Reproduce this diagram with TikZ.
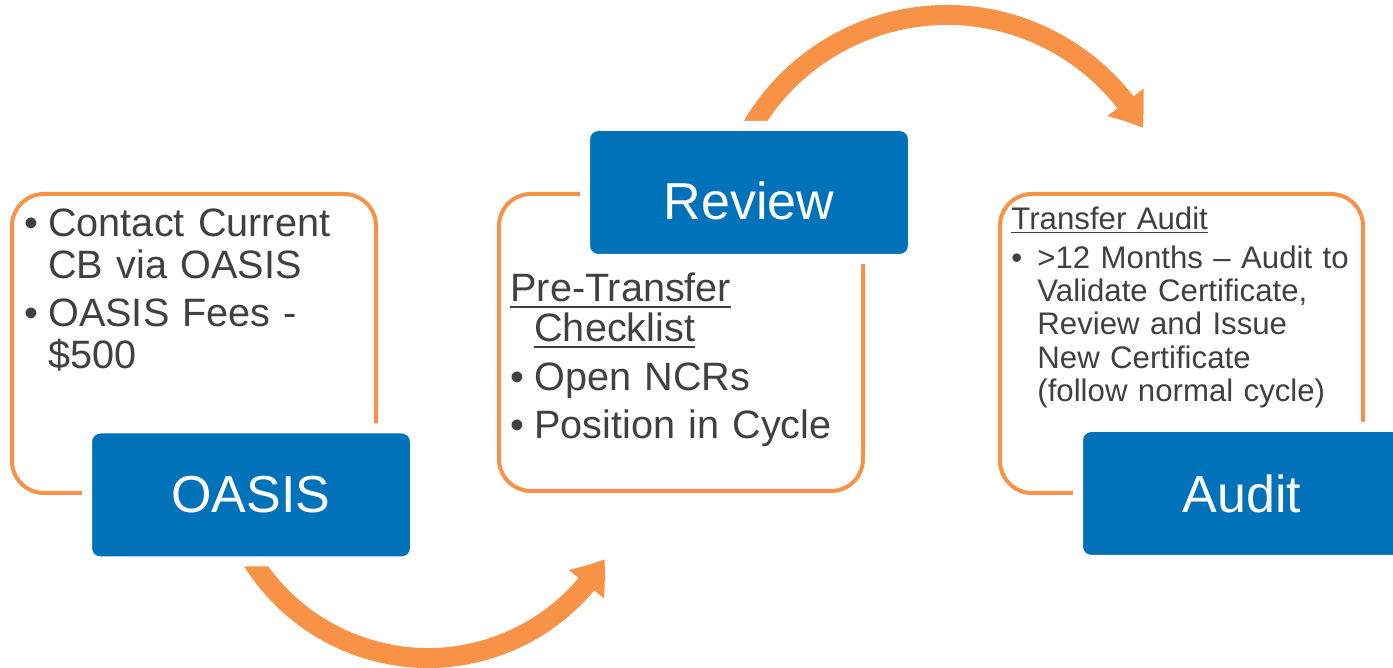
\documentclass[tikz,border=0pt]{standalone}
\usepackage{fontspec}
\setmainfont{Liberation Sans}
\usetikzlibrary{calc}
\usetikzlibrary{arrows.meta}
\usetikzlibrary{bending}
\definecolor{stepblue}{RGB}{0,114,185}
\definecolor{steporange}{RGB}{248,146,70}
\definecolor{notegray}{RGB}{64,64,64}
\tikzstyle{frame}=[draw=steporange,line width=2pt,rounded corners=16pt]
\tikzstyle{titlebox}=[fill=stepblue,draw=white,line width=5pt,rounded corners=6.5pt,minimum width=164pt,minimum height=66.5pt,text=white,font=\fontsize{26pt}{30pt}\selectfont]
\tikzstyle{cyclearrow}=[draw=steporange,line width=10pt,-{Triangle[length=15.5pt,width=21.5pt,bend]}]
\tikzstyle{notes}=[anchor=base west,inner sep=0pt,text width=178pt,align=left,text=notegray]
\def\cyclestep(#1)(#2)(#3)#4#5% Syntax: (frame lower left)(frame upper right)(title centre){name}{title}
    { \draw[frame] (#1) rectangle (#2);
      \node[titlebox] (#4) at (#3) {#5}; }
\newcommand{\underword}[3][2.8pt]{\leavevmode\setbox0=\hbox{#3}\rlap{\rule[-#1]{\wd0}{#2}}\box0}
\newcommand{\bulletpar}[1]{\hangindent=#1\hangafter=1\makebox[#1][l]{\textbullet}}

\begin{document}
\begin{tikzpicture}[x=0.5pt,y=0.5pt]
	\useasboundingbox (0,0) rectangle (1393,668);
	\clip (0,0) rectangle (1393,668);
	% arrows between the steps, drawn first so the title boxes hide their tails
	\coordinate (oasisout) at ($(428,217)+(205:103.5pt)$);
	\coordinate (reviewout) at ($(947,427)+(155:113pt)$);
	\draw[cyclearrow] (oasisout) arc[start angle=205,end angle=328.5,radius=103.5pt];
	\draw[cyclearrow] (reviewout) arc[start angle=155,end angle=30,radius=113pt];
	% the three steps
	\cyclestep(12,175)(376,474)(251,173){oasis}{OASIS}
	\cyclestep(499,177)(863,474)(749,475.5){review}{\raisebox{-4pt}[\height][\depth]{Review}}
	\cyclestep(1000,175)(1363,474)(1242,174.5){audit}{Audit}
	% texts in the frames
	\node[notes,font=\fontsize{19.8pt}{20.75pt}\selectfont] (oasisnotes) at (24,431) {%
		\parskip=3.5pt
		\bulletpar{12pt}Contact Current\newline CB via OASIS\par
		\bulletpar{12pt}OASIS Fees -\newline\$500\par};
	\node[notes,font=\fontsize{19.8pt}{20pt}\selectfont] (reviewnotes) at (510,366) {%
		\parskip=4.1pt
		\hangindent=12pt\hangafter=1\underword{1pt}{Pre-Transfer}\newline\underword{1pt}{Checklist}\par
		\bulletpar{12pt}Open NCRs\par
		\bulletpar{12pt}Position in Cycle\par};
	\node[notes,font=\fontsize{15.6pt}{16.65pt}\selectfont] (auditnotes) at (1011,438) {%
		\parskip=2.5pt
		\underword[1.7pt]{0.75pt}{Transfer Audit}\par
		\bulletpar{13pt}>12 Months – Audit to\newline Validate Certificate,\newline Review and Issue\newline New Certificate\newline(follow normal cycle)\par};
\end{tikzpicture}
\end{document}
